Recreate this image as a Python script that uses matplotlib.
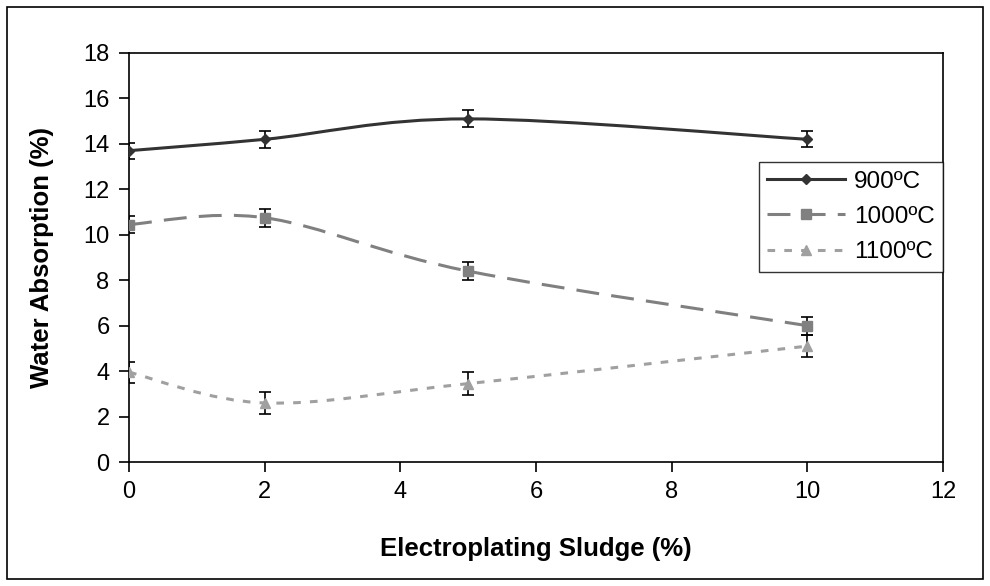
import numpy as np
import matplotlib
matplotlib.use('Agg')
import matplotlib.pyplot as plt
from matplotlib.path import Path
from matplotlib.patches import PathPatch, Rectangle
from matplotlib.lines import Line2D

plt.rcParams['font.family'] = ['Liberation Sans', 'DejaVu Sans']

sludge = [0, 2, 5, 10]
labels = ['900ºC', '1000ºC', '1100ºC']
absorption = [
    [13.7, 14.2, 15.1, 14.2],
    [10.45, 10.75, 8.4, 6.0],
    [3.95, 2.6, 3.45, 5.1],
]
errors = [
    [0.35, 0.37, 0.37, 0.35],
    [0.38, 0.4, 0.4, 0.4],
    [0.47, 0.48, 0.5, 0.48],
]
colors = ['#333333', '#808080', '#a0a0a0']
markers = ['D', 's', '^']
msizes = [5, 7, 7]
dashes = [None, (7.5, 4), (2.5, 3)]


def smooth_path(xs, ys):
    # Catmull-Rom style bezier, like Excel's "smoothed line"
    pts = np.column_stack([xs, ys]).astype(float)
    n = len(pts)
    verts = [pts[0]]
    codes = [Path.MOVETO]
    for i in range(n - 1):
        p0 = pts[i - 1] if i > 0 else pts[i]
        p1 = pts[i]
        p2 = pts[i + 1]
        p3 = pts[i + 2] if i + 2 < n else pts[i + 1]
        c1 = p1 + (p2 - p0) / 6
        c2 = p2 - (p3 - p1) / 6
        verts += [c1, c2, p2]
        codes += [Path.CURVE4] * 3
    return Path(verts, codes)


fig = plt.figure(figsize=(9.9, 5.86), dpi=100)
ax = fig.add_axes([0.1303, 0.2116, 0.8222, 0.698])

handles = []
for i in range(3):
    ls = '-' if dashes[i] is None else (0, dashes[i])
    patch = PathPatch(smooth_path(sludge, absorption[i]), facecolor='none',
                      edgecolor=colors[i], lw=2.2, linestyle=ls, zorder=2)
    ax.add_patch(patch)
    ax.errorbar(sludge, absorption[i], yerr=errors[i], fmt=markers[i],
                color=colors[i], ms=msizes[i], ecolor='black', elinewidth=1.2,
                capsize=4.3, capthick=1.2, zorder=3)
    handles.append(Line2D([], [], color=colors[i], lw=2.2, linestyle=ls,
                          marker=markers[i], ms=msizes[i]))

ax.set_xlim(0, 12)
ax.set_ylim(0, 18)
ax.set_xticks(range(0, 13, 2))
ax.set_yticks(range(0, 19, 2))
ax.tick_params(direction='out', length=7, width=1.2, labelsize=17, pad=7)
for s in ax.spines.values():
    s.set_linewidth(1.2)
ax.set_xlabel('Electroplating Sludge (%)', fontsize=18.5, fontweight='bold', labelpad=24.5)
ax.set_ylabel('Water Absorption (%)', fontsize=18.5, fontweight='bold', labelpad=21)

leg = ax.legend(handles, labels, loc='upper right', bbox_to_anchor=(1.0, 0.7335),
                fontsize=17.5, frameon=True, fancybox=False, handlelength=3.2,
                handletextpad=0.35, borderpad=0.35, labelspacing=0.55,
                borderaxespad=0)
leg.get_frame().set_edgecolor('black')
leg.get_frame().set_linewidth(1.0)

fig.patches.append(Rectangle((0.007, 0.012), 0.986, 0.976, transform=fig.transFigure,
                             fill=False, edgecolor='black', lw=1.2))

fig.savefig('out.png', dpi=100)
